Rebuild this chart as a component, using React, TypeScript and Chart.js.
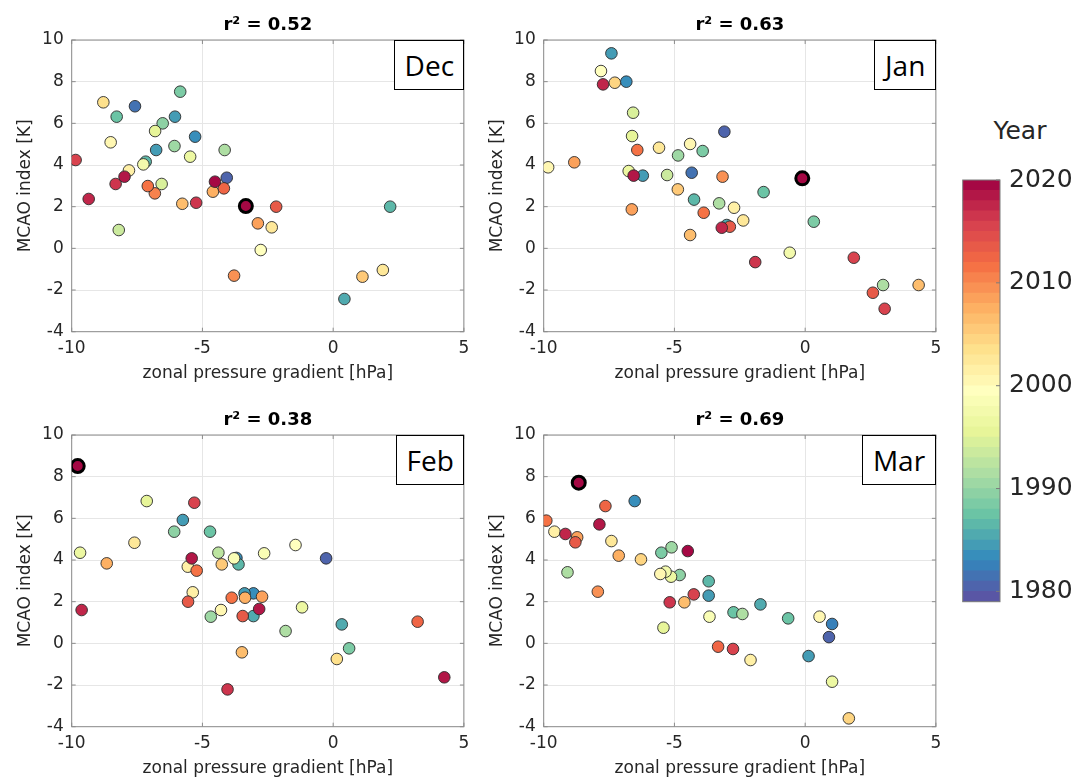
import React, { useEffect, useRef } from 'react';
import { Chart, registerables } from 'chart.js';

Chart.register(...registerables);
Chart.defaults.font.family = "'DejaVu Sans', sans-serif";

// ---------------- data ----------------
const decX = [-8.79, -8.28, -7.58, -5.85, -6.05, -6.52, -6.81, -8.51, -5.28, -6.77, -6.07, -5.47, -4.15, -9.85, -7.17, -7.26, -7.81, -7.98, -8.32, -6.56, -4.07, -4.52, -7.09, -6.82, -4.6, -4.18, -9.35, -5.77, -5.24, -3.34, -2.18, 2.18, -2.88, -2.35, -8.2, -2.77, -3.79, 1.12, 1.9, 0.43];
const decY = [7.01, 6.32, 6.82, 7.52, 6.32, 6.0, 5.63, 5.09, 5.36, 4.72, 4.91, 4.4, 4.72, 4.24, 4.16, 4.03, 3.74, 3.44, 3.09, 3.09, 3.39, 3.2, 2.99, 2.64, 2.72, 2.88, 2.37, 2.14, 2.19, 2.03, 2.0, 2.0, 1.2, 1.01, 0.88, -0.08, -1.31, -1.36, -1.04, -2.43];
const decYear = [2003, 1987, 1981, 1988, 1984, 1989, 1995, 2000, 1983, 1984, 1990, 1996, 1991, 2015, 1986, 1997, 2001, 2018, 2016, 1994, 1980, 2019, 2011, 2010, 2007, 2012, 2017, 2006, 2016, 2020, 2013, 1986, 2008, 2002, 1993, 1999, 2009, 2005, 2002, 1985];

const janX = [-7.41, -7.81, -7.73, -7.28, -6.84, -6.58, -6.62, -6.42, -3.09, -5.59, -4.4, -4.86, -3.92, -9.83, -8.83, -6.75, -6.56, -6.21, -5.28, -4.34, -3.16, -0.11, -4.87, -4.25, -1.59, -3.29, -2.72, -6.63, -3.88, -2.37, -3.0, -2.88, -3.19, -4.4, 0.33, -0.59, -1.91, 1.86, 2.98, 2.59, 4.34, 3.04];
const janY = [9.36, 8.51, 7.87, 7.95, 8.0, 6.51, 5.39, 4.72, 5.6, 4.83, 5.01, 4.46, 4.67, 3.89, 4.13, 3.71, 3.49, 3.49, 3.52, 3.63, 3.44, 3.36, 2.83, 2.34, 2.7, 2.16, 1.95, 1.87, 1.71, 1.34, 1.12, 1.04, 0.99, 0.64, 1.28, -0.21, -0.66, -0.45, -1.76, -2.13, -1.76, -2.9];
const janYear = [1984, 1999, 2017, 2004, 1983, 1994, 1995, 2011, 1980, 2002, 2000, 1990, 1988, 2000, 2008, 1996, 2018, 1984, 1993, 1981, 2009, 2020, 2005, 1986, 1987, 1991, 2001, 2008, 2011, 2002, 1985, 2013, 2017, 2006, 1988, 1997, 2016, 2015, 1991, 2013, 2006, 2015];

const febX = [-9.77, -7.13, -5.31, -5.75, -6.08, -4.71, -7.6, -1.44, -9.68, -4.39, -2.64, -0.27, -8.66, -5.41, -5.56, -5.22, -4.26, -3.7, -3.79, -3.62, -5.37, -5.55, -3.39, -3.05, -3.88, -3.37, -2.72, -9.62, -4.29, -4.68, -3.46, -3.05, -2.83, -1.19, -1.82, 0.33, 3.23, -3.49, 0.61, 0.14, -4.04, 4.25];
const febY = [8.51, 6.83, 6.75, 5.92, 5.36, 5.36, 4.83, 4.72, 4.35, 4.35, 4.32, 4.08, 3.84, 4.08, 3.68, 3.49, 3.79, 4.1, 4.08, 3.79, 2.45, 2.0, 2.4, 2.4, 2.19, 2.19, 2.24, 1.6, 1.6, 1.28, 1.31, 1.31, 1.65, 1.73, 0.59, 0.91, 1.04, -0.43, -0.24, -0.75, -2.21, -1.63];
const febYear = [2020, 1995, 2015, 1984, 1989, 1987, 2002, 1999, 1996, 1992, 1998, 1980, 2007, 2018, 2001, 2011, 2005, 1983, 1998, 1986, 2001, 2013, 1984, 1983, 2011, 2007, 2008, 2017, 2000, 1990, 2013, 1985, 2018, 1996, 1991, 1985, 2012, 2006, 1988, 2003, 2016, 2018];

const marX = [-8.66, -6.52, -7.64, -9.9, -7.87, -9.59, -9.17, -8.72, -8.79, -7.41, -5.5, -5.11, -4.49, -7.13, -6.28, -9.09, -5.54, -5.34, -5.13, -4.8, -3.69, -3.69, -4.26, -7.93, -5.18, -4.62, -1.71, -2.74, -2.4, -0.65, 0.55, 1.03, 0.91, -3.66, -5.42, -3.33, -2.76, -2.09, 0.13, 1.03, 1.67];
const marY = [7.71, 6.83, 6.59, 5.89, 5.71, 5.36, 5.25, 5.09, 4.85, 4.91, 4.35, 4.61, 4.43, 4.21, 4.03, 3.41, 3.33, 3.44, 3.2, 3.28, 2.98, 2.29, 2.35, 2.48, 1.97, 1.97, 1.87, 1.49, 1.41, 1.2, 1.28, 0.93, 0.3, 1.28, 0.75, -0.16, -0.27, -0.8, -0.61, -1.84, -3.6];
const marYear = [2020, 1983, 2012, 2011, 2018, 2001, 2017, 2008, 2013, 2002, 1988, 1990, 2019, 2007, 2004, 1991, 2000, 1997, 1996, 1989, 1986, 1984, 2015, 2009, 2016, 2006, 1985, 1987, 1991, 1987, 2000, 1982, 1980, 1998, 1995, 2012, 2015, 2001, 1984, 1996, 2004];

const monthLabels = ['Dec', 'Jan', 'Feb', 'Mar'];
const r2Titles = ['r\u00b2 = 0.52', 'r\u00b2 = 0.63', 'r\u00b2 = 0.38', 'r\u00b2 = 0.69'];
const xTicks = [-10, -5, 0, 5];
const yTicks = [-4, -2, 0, 2, 4, 6, 8, 10];
const yearTicks = [1980, 1990, 2000, 2010, 2020];
const YEAR_MIN = 1979;
const YEAR_MAX = 2020;
const HIGHLIGHT_YEAR = 2020;
const xTitle = 'zonal pressure gradient [hPa]';
const yTitle = 'MCAO index [K]';

// ---------------- colour map (Spectral, reversed) ----------------
const SPECTRAL = ['#5e4fa2', '#3288bd', '#66c2a5', '#abdda4', '#e6f598', '#ffffbf', '#fee08b', '#fdae61', '#f46d43', '#d53e4f', '#9e0142'];
function hexToRgb(h: string) {
  return [parseInt(h.slice(1, 3), 16), parseInt(h.slice(3, 5), 16), parseInt(h.slice(5, 7), 16)];
}
function spectral(t: number) {
  const p = Math.min(Math.max(t, 0), 1) * (SPECTRAL.length - 1);
  const i = Math.min(Math.floor(p), SPECTRAL.length - 2);
  const f = p - i;
  const a = hexToRgb(SPECTRAL[i]);
  const b = hexToRgb(SPECTRAL[i + 1]);
  const c = a.map((v, k) => Math.round(v + (b[k] - v) * f));
  return `rgb(${c[0]},${c[1]},${c[2]})`;
}
const NBINS = YEAR_MAX - YEAR_MIN;
function yearColor(y: number) {
  const bin = Math.min(Math.max(Math.floor(y - YEAR_MIN), 0), NBINS - 1);
  return spectral((bin + 0.5) / NBINS);
}

const TXT = '#262626';
const FRAME = '#8c8c8c';

const framePlugin = {
  id: 'frame',
  beforeDatasetsDraw(chart: any) {
    const { ctx, chartArea } = chart;
    const { left, top, right, bottom } = chartArea;
    ctx.save();
    ctx.strokeStyle = FRAME;
    ctx.lineWidth = 1;
    ctx.strokeRect(left, top, right - left, bottom - top);
    const xs = chart.scales.x;
    const ys = chart.scales.y;
    ctx.beginPath();
    xs.ticks.forEach((t: any) => {
      const p = xs.getPixelForValue(t.value);
      ctx.moveTo(p, bottom); ctx.lineTo(p, bottom - 4);
      ctx.moveTo(p, top); ctx.lineTo(p, top + 4);
    });
    ys.ticks.forEach((t: any) => {
      const p = ys.getPixelForValue(t.value);
      ctx.moveTo(left, p); ctx.lineTo(left + 4, p);
      ctx.moveTo(right, p); ctx.lineTo(right - 4, p);
    });
    ctx.stroke();
    ctx.restore();
  },
};

type PanelSpec = {
  left: number; top: number; h: number; title: string; month: string;
  xs: number[]; ys: number[]; years: number[]; boxLeft: number;
};

const W = 480;
const AREA_LEFT = 71.7;
const AREA_RIGHT = 463.9;
const AREA_BOTTOM = 331.7;

function Panel({ spec }: { spec: PanelSpec }) {
  const ref = useRef<HTMLCanvasElement>(null);
  useEffect(() => {
    const order = spec.years.map((_, i) => i).sort((a, b) => spec.years[a] - spec.years[b]);
    const pts = order.map(i => ({ x: spec.xs[i], y: spec.ys[i] }));
    const yrs = order.map(i => spec.years[i]);
    const H = spec.h;
    const chart = new Chart(ref.current as HTMLCanvasElement, {
      type: 'scatter',
      data: {
        datasets: [{
          data: pts,
          pointBackgroundColor: yrs.map(yearColor),
          pointBorderColor: yrs.map(y => (y === HIGHLIGHT_YEAR ? '#000000' : '#2a2a2a')),
          pointBorderWidth: yrs.map(y => (y === HIGHLIGHT_YEAR ? 3 : 0.9)),
          pointRadius: yrs.map(y => (y === HIGHLIGHT_YEAR ? 6.5 : 5.8)),
          pointHoverRadius: yrs.map(y => (y === HIGHLIGHT_YEAR ? 6.5 : 5.8)),
        }],
      },
      options: {
        responsive: false,
        animation: false,
        events: [],
        layout: { padding: { left: 0, right: W - AREA_RIGHT, top: 0, bottom: 0 } },
        plugins: {
          legend: { display: false },
          tooltip: { enabled: false },
          title: {
            display: true, text: spec.title, fullSize: false, color: '#000',
            font: { size: 18, weight: 'bold' }, padding: { top: 15, bottom: 3.4 },
          },
        },
        scales: {
          x: {
            type: 'linear', min: -10, max: 5,
            afterBuildTicks: (s: any) => { s.ticks = xTicks.map(v => ({ value: v })); },
            afterFit: (s: any) => { s.height = H - AREA_BOTTOM; },
            grid: { color: '#e6e6e6', drawTicks: false },
            border: { display: false },
            ticks: { padding: 7, color: TXT, font: { size: 17 } },
            title: { display: true, text: xTitle, color: TXT, font: { size: 17 }, padding: { top: 0, bottom: H - 384.2 } },
          },
          y: {
            type: 'linear', min: -4, max: 10,
            afterBuildTicks: (s: any) => { s.ticks = yTicks.map(v => ({ value: v })); },
            afterFit: (s: any) => { s.width = AREA_LEFT; },
            grid: { color: '#e6e6e6', drawTicks: false },
            border: { display: false },
            ticks: { padding: 8, color: TXT, font: { size: 17 } },
            title: { display: true, text: yTitle, color: TXT, font: { size: 17 }, padding: { top: 15.8, bottom: 0 } },
          },
        },
      } as any,
      plugins: [framePlugin],
    });
    return () => chart.destroy();
  }, []);
  return (
    <>
      <canvas ref={ref} width={W} height={spec.h}
        style={{ position: 'absolute', left: spec.left, top: spec.top, width: W, height: spec.h, display: 'block' }} />
      <div style={{
        position: 'absolute', left: spec.left + spec.boxLeft, top: spec.top + 40,
        width: spec.left + AREA_RIGHT - (spec.left + spec.boxLeft) + 0.5, height: 49.5,
        boxSizing: 'border-box', border: '1.5px solid #000', background: '#fff',
        display: 'flex', alignItems: 'center', justifyContent: 'center',
        fontFamily: "'Open Sans', sans-serif", fontSize: 28, color: '#000', lineHeight: 1,
      }}>{spec.month}</div>
    </>
  );
}

function ColorBar() {
  const ref = useRef<HTMLCanvasElement>(null);
  useEffect(() => {
    const segYears: number[] = [];
    for (let y = YEAR_MIN; y < YEAR_MAX; y++) segYears.push(y);
    const cbFrame = {
      id: 'cbframe',
      afterDatasetsDraw(chart: any) {
        const { ctx, chartArea } = chart;
        const { left, top, right, bottom } = chartArea;
        ctx.save();
        ctx.strokeStyle = '#7a7a7a';
        ctx.lineWidth = 1;
        ctx.strokeRect(left, top, right - left, bottom - top);
        const ys = chart.scales.y;
        ctx.beginPath();
        ys.ticks.forEach((t: any) => {
          const p = ys.getPixelForValue(t.value);
          ctx.moveTo(right, p); ctx.lineTo(right - 4, p);
        });
        ctx.stroke();
        ctx.restore();
      },
    };
    const chart = new Chart(ref.current as HTMLCanvasElement, {
      type: 'bar',
      data: {
        labels: [''],
        datasets: segYears.map(y => ({
          data: [[y, y + 1]],
          backgroundColor: yearColor(y),
          borderWidth: 0,
          barPercentage: 1,
          categoryPercentage: 1,
        })),
      },
      options: {
        responsive: false,
        animation: false,
        events: [],
        layout: { padding: { left: 22.7, top: 80, bottom: 38.3, right: 0 } },
        plugins: { legend: { display: false }, tooltip: { enabled: false } },
        scales: {
          x: { display: false, stacked: true },
          y: {
            position: 'right', min: YEAR_MIN, max: YEAR_MAX, stacked: false,
            afterBuildTicks: (s: any) => { s.ticks = yearTicks.map(v => ({ value: v })); },
            afterFit: (s: any) => { s.width = 87; },
            grid: { display: false, drawTicks: false },
            border: { display: false },
            ticks: { padding: 9, color: TXT, font: { size: 25 }, callback: (v: any) => String(v) },
          },
        },
      } as any,
      plugins: [cbFrame],
    });
    return () => chart.destroy();
  }, []);
  return (
    <>
      <div style={{
        position: 'absolute', left: 960, top: 115, width: 120, textAlign: 'center',
        fontFamily: "'DejaVu Sans', sans-serif", fontSize: 25, color: TXT, lineHeight: '32px',
      }}>Year</div>
      <canvas ref={ref} width={147} height={540}
        style={{ position: 'absolute', left: 940, top: 100, width: 147, height: 540, display: 'block' }} />
    </>
  );
}

const panels: PanelSpec[] = [
  { left: 0, top: 0, h: 390, title: r2Titles[0], month: monthLabels[0], xs: decX, ys: decY, years: decYear, boxLeft: 394.3 },
  { left: 472, top: 0, h: 390, title: r2Titles[1], month: monthLabels[1], xs: janX, ys: janY, years: janYear, boxLeft: 402 },
  { left: 0, top: 395, h: 386, title: r2Titles[2], month: monthLabels[2], xs: febX, ys: febY, years: febYear, boxLeft: 396 },
  { left: 472, top: 395, h: 386, title: r2Titles[3], month: monthLabels[3], xs: marX, ys: marY, years: marYear, boxLeft: 389.7 },
];

export default function App() {
  return (
    <div style={{ position: 'fixed', left: 0, top: 0, width: 1087, height: 781, overflow: 'hidden', background: '#fff' }}>
      {panels.map((p, i) => <Panel key={i} spec={p} />)}
      <ColorBar />
    </div>
  );
}
